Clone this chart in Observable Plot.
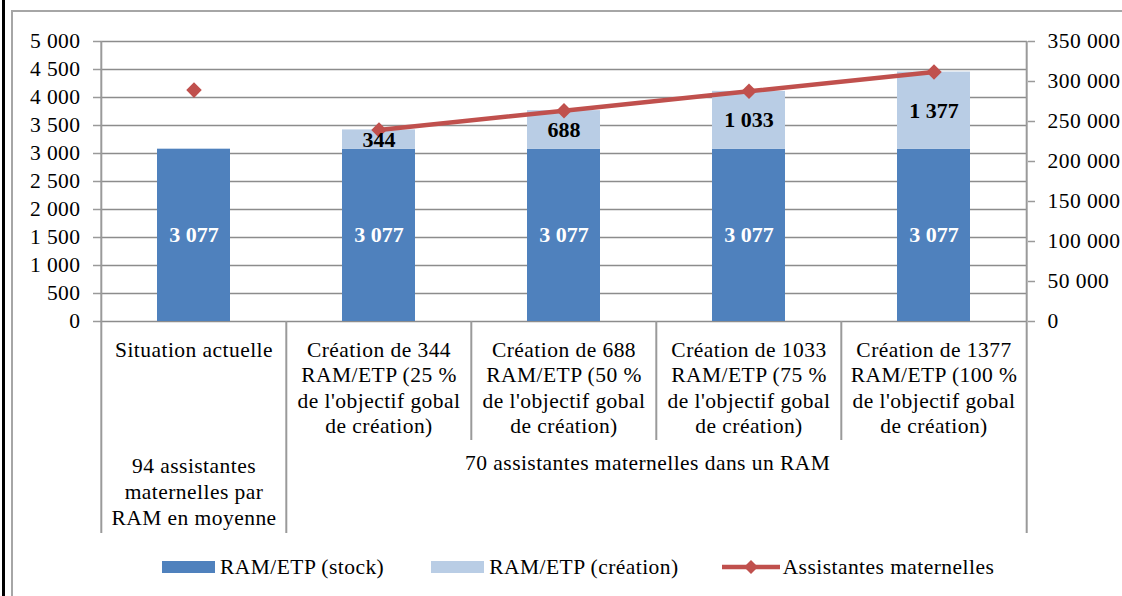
<!DOCTYPE html>
<html>
<head>
<meta charset="utf-8">
<script src="https://cdn.jsdelivr.net/npm/d3@7"></script>
<script src="https://cdn.jsdelivr.net/npm/@observablehq/plot@0.6"></script>
<style>
  body { margin: 0; background: #fff; }
  #wrap { position: relative; width: 1122px; height: 596px; overflow: hidden; font-family: 'Liberation Serif', 'Times New Roman', serif; color: #000; }
  #blk { position: absolute; left: 2px; top: 0; width: 3px; height: 596px; background: #000; }
  #frm { position: absolute; left: 11px; top: 10px; width: 1130px; height: 610px; border: 2px solid #a6a6a6; box-sizing: border-box; }
  #chart { position: absolute; left: 0; top: 0; }
  #chart g:not([font-weight]) > text { letter-spacing: 0.45px; }
  #legend { position: absolute; left: 162px; top: 552px; height: 30px; display: flex; align-items: center; font-size: 21.5px; letter-spacing: 0.45px; }
  .item { display: flex; align-items: center; }
  .sw { width: 53px; height: 12px; margin-right: 5px; }
  .gap1 { width: 47px; }
  .gap2 { width: 43px; }
</style>
</head>
<body>
<div id="wrap">
  <div id="blk"></div>
  <div id="frm"></div>
  <div id="chart"></div>
  <div id="legend"></div>
</div>
<script>
// ---- data ----
const categories = [
  "Situation actuelle",
  "Création de 344 RAM/ETP (25 % de l'objectif gobal de création)",
  "Création de 688 RAM/ETP (50 % de l'objectif gobal de création)",
  "Création de 1033 RAM/ETP (75 % de l'objectif gobal de création)",
  "Création de 1377 RAM/ETP (100 % de l'objectif gobal de création)"
];
const categoryLabels = [
  "Situation actuelle",
  "Création de 344\nRAM/ETP (25 %\nde l'objectif gobal\nde création)",
  "Création de 688\nRAM/ETP (50 %\nde l'objectif gobal\nde création)",
  "Création de 1033\nRAM/ETP (75 %\nde l'objectif gobal\nde création)",
  "Création de 1377\nRAM/ETP (100 %\nde l'objectif gobal\nde création)"
];
const groupLabels = [
  "94 assistantes\nmaternelles par\nRAM en moyenne",
  "70 assistantes maternelles dans un RAM"
];
const stockValues = [3077, 3077, 3077, 3077, 3077];
const creationValues = [0, 344, 688, 1033, 1377];
const assistantesValues = [289238, 239470, 263550, 287700, 311780];
const leftTicks = [0, 500, 1000, 1500, 2000, 2500, 3000, 3500, 4000, 4500, 5000];
const rightTicks = [0, 50000, 100000, 150000, 200000, 250000, 300000, 350000];
const seriesNames = ["RAM/ETP (stock)", "RAM/ETP (création)", "Assistantes maternelles"];
const colors = ["#4F81BD", "#B9CDE5", "#C0504D"];

// ---- layout ----
const W = 1122, H = 548, mL = 100, mR = 95, mT = 41, mB = 227;
const bw = (W - mL - mR) / categories.length;
const frameH = H - mT - mB;
const ratio = rightTicks[rightTicks.length - 1] / leftTicks[leftTicks.length - 1];
const FONT = "'Liberation Serif', 'Times New Roman', serif";
const FS = 21.5;
const grid = "#8c8c8c";
const sep = "#9a9a9a";

const fr = d3.formatLocale({decimal: ",", thousands: " ", grouping: [3], currency: ["", " €"]});
const fmt = fr.format(",d");

const rows = categories.map((c, i) => ({
  cat: c, label: categoryLabels[i], stock: stockValues[i], creation: creationValues[i], assist: assistantesValues[i]
}));

const chart = Plot.plot({
  width: W, height: H,
  marginLeft: mL, marginRight: mR, marginTop: mT, marginBottom: mB,
  style: {fontFamily: FONT, color: "#000", background: "transparent"},
  x: {type: "band", domain: categories, padding: 0, axis: null},
  y: {domain: [0, 5000], axis: null},
  marks: [
    Plot.ruleY(leftTicks, {stroke: grid, strokeWidth: 1.3}),
    Plot.axisY({anchor: "left", ticks: leftTicks, tickFormat: fmt, tickSize: 7, tickPadding: 13, fontSize: FS, stroke: sep, strokeWidth: 1.5, label: null}),
    Plot.axisY({anchor: "right", ticks: rightTicks.map(v => v / ratio), tickFormat: d => fmt(Math.round(d * ratio)), tickSize: 7, tickPadding: 13, fontSize: FS, stroke: sep, strokeWidth: 1.5, label: null}),
    // outer vertical lines (axis lines continuing into the label table)
    Plot.ruleX([categories[0]], {dx: -bw / 2, stroke: sep, strokeWidth: 2, insetBottom: -212}),
    Plot.ruleX([categories[categories.length - 1]], {dx: bw / 2, stroke: sep, strokeWidth: 2, insetBottom: -212}),
    // separator between the two groups – full table height
    Plot.ruleX([categories[1]], {dx: -bw / 2, stroke: sep, strokeWidth: 2, insetTop: frameH, insetBottom: -212}),
    // separators in the first row only
    Plot.ruleX(categories.slice(2), {dx: -bw / 2, stroke: sep, strokeWidth: 2, insetTop: frameH, insetBottom: -119}),
    // stacked bars
    Plot.barY(rows, {x: "cat", y1: 0, y2: "stock", fill: colors[0], insetLeft: 56, insetRight: 56}),
    Plot.barY(rows.filter(d => d.creation > 0), {x: "cat", y1: "stock", y2: d => d.stock + d.creation, fill: colors[1], insetLeft: 56, insetRight: 56}),
    // line on secondary axis
    Plot.line(rows.slice(1), {x: "cat", y: d => d.assist / ratio, stroke: colors[2], strokeWidth: 4.5}),
    Plot.dot(rows, {x: "cat", y: d => d.assist / ratio, symbol: "diamond2", r: 7, fill: colors[2], stroke: "none"}),
    // data labels
    Plot.text(rows, {x: "cat", y: d => d.stock / 2, text: d => fmt(d.stock), fill: "#fff", fontWeight: "bold", fontSize: 22}),
    Plot.text(rows.filter(d => d.creation > 0), {x: "cat", y: d => d.stock + d.creation / 2, text: d => fmt(d.creation), fill: "#000", fontWeight: "bold", fontSize: 22}),
    // category labels (row 1)
    Plot.text(rows, {x: "cat", text: "label", frameAnchor: "bottom", lineAnchor: "top", dy: 17.5, fontSize: FS, lineHeight: 25.3 / FS, fill: "#000"}),
    // group labels (row 2)
    Plot.text([groupLabels[0]], {x: () => categories[0], text: d => d, frameAnchor: "bottom", lineAnchor: "top", dy: 133.5, fontSize: FS, lineHeight: 26 / FS, fill: "#000"}),
    Plot.text([groupLabels[1]], {x: () => categories[2], text: d => d, frameAnchor: "bottom", lineAnchor: "top", dy: 133.5, dx: bw / 2 - 9, fontSize: FS, fill: "#000"})
  ]
});
document.getElementById("chart").appendChild(chart);

// ---- legend (HTML, below the SVG) ----
const lg = document.getElementById("legend");
lg.innerHTML = `
  <div class="item"><div class="sw" style="background:${colors[0]}"></div><span>${seriesNames[0]}</span></div>
  <div class="gap1"></div>
  <div class="item"><div class="sw" style="background:${colors[1]}"></div><span>${seriesNames[1]}</span></div>
  <div class="gap2"></div>
  <div class="item"><svg width="58" height="16" style="margin-right:3px"><line x1="0" y1="8" x2="58" y2="8" stroke="${colors[2]}" stroke-width="4.5"/><path d="M29,1 L36,8 L29,15 L22,8 Z" fill="${colors[2]}"/></svg><span>${seriesNames[2]}</span></div>
`;
</script>
</body>
</html>
